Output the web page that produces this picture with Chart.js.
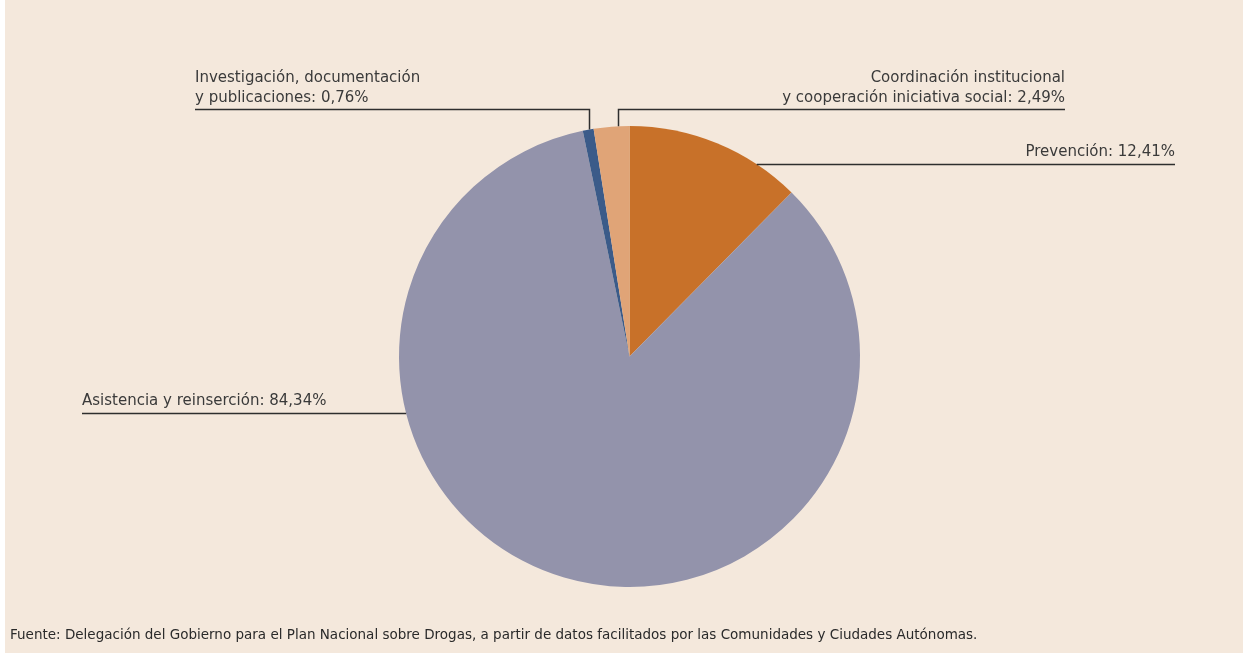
<!DOCTYPE html>
<html>
<head>
<meta charset="utf-8">
<script src="https://cdn.jsdelivr.net/npm/chart.js@4.4.1/dist/chart.umd.min.js"></script>
<style>
  html, body { margin: 0; padding: 0; background: #ffffff; }
  #fondo { position: absolute; left: 5px; top: 0; width: 1238px; height: 653px; background: #f4e8dc; }
  #grafico { position: absolute; left: 0; top: 0; }
</style>
</head>
<body>
<div id="fondo"></div>
<canvas id="grafico" width="1243" height="653"></canvas>
<script>
// areas del presupuesto, en el orden de las agujas del reloj desde arriba
const areas = ['Prevención', 'Asistencia y reinserción', 'Investigación, documentación y publicaciones', 'Coordinación institucional y cooperación iniciativa social'];
const porcentajes = [12.41, 84.34, 0.76, 2.49];
const colores = ['#c87129', '#9393ab', '#3b5b89', '#e0a477'];
// texto de cada etiqueta (el valor se añade al final de la última línea)
const textoEtiquetas = [
  ['Prevención'],
  ['Asistencia y reinserción'],
  ['Investigación, documentación', 'y publicaciones'],
  ['Coordinación institucional', 'y cooperación iniciativa social']
];
const fuente = 'Fuente: Delegación del Gobierno para el Plan Nacional sobre Drogas, a partir de datos facilitados por las Comunidades y Ciudades Autónomas.';

// donde sale la línea de cada etiqueta (fracción del sector) y donde va el texto
const colocacion = [
  { tipo: 'lado', frac: 0.75, textoX: 1175, align: 'right' },
  { tipo: 'lado', frac: 0.695, textoX: 82, align: 'left' },
  { tipo: 'arriba', frac: 0.58, lineaY: 109, textoX: 195, align: 'left' },
  { tipo: 'arriba', frac: 0.68, lineaY: 109, textoX: 1065, align: 'right' }
];

const formato = v => v.toFixed(2).replace('.', ',') + '%';

const etiquetasPlugin = {
  id: 'etiquetas',
  afterDraw(chart) {
    const ctx = chart.ctx;
    const arcos = chart.getDatasetMeta(0).data;
    ctx.save();
    ctx.strokeStyle = '#2e2e2e';
    ctx.lineWidth = 1.5;
    ctx.fillStyle = '#3a3a3a';
    ctx.font = '15px "DejaVu Sans"';
    arcos.forEach((arco, i) => {
      const c = colocacion[i];
      const p = arco.getProps(['x', 'y', 'startAngle', 'endAngle', 'outerRadius'], true);
      const ang = p.startAngle + c.frac * (p.endAngle - p.startAngle);
      const ax = p.x + p.outerRadius * Math.cos(ang);
      const ay = p.y + p.outerRadius * Math.sin(ang);
      const lineas = textoEtiquetas[i].slice();
      lineas[lineas.length - 1] += ': ' + formato(porcentajes[i]);
      ctx.textAlign = c.align;
      ctx.textBaseline = 'alphabetic';
      ctx.beginPath();
      if (c.tipo === 'lado') {
        ctx.moveTo(ax, Math.round(ay) + 0.5);
        ctx.lineTo(c.textoX, Math.round(ay) + 0.5);
        ctx.stroke();
        ctx.fillText(lineas[0], c.textoX, ay - 8);
      } else {
        ctx.moveTo(Math.round(ax) + 0.5, ay);
        ctx.lineTo(Math.round(ax) + 0.5, c.lineaY + 0.5);
        ctx.lineTo(c.textoX, c.lineaY + 0.5);
        ctx.stroke();
        lineas.forEach((t, k) => {
          ctx.fillText(t, c.textoX, c.lineaY - 7 - (lineas.length - 1 - k) * 20);
        });
      }
    });
    // nota de la fuente
    ctx.textAlign = 'left';
    ctx.font = '13.5px "DejaVu Sans"';
    ctx.fillStyle = '#2a2a2a';
    ctx.fillText(fuente, 10, 639);
    ctx.restore();
  }
};

new Chart(document.getElementById('grafico'), {
  type: 'pie',
  data: {
    labels: areas,
    datasets: [{
      data: porcentajes,
      backgroundColor: colores,
      borderWidth: 0
    }]
  },
  options: {
    responsive: false,
    animation: false,
    layout: { padding: { top: 126, bottom: 66, left: 16, right: 0 } },
    plugins: {
      legend: { display: false },
      tooltip: { enabled: false }
    }
  },
  plugins: [etiquetasPlugin]
});
</script>
</body>
</html>
